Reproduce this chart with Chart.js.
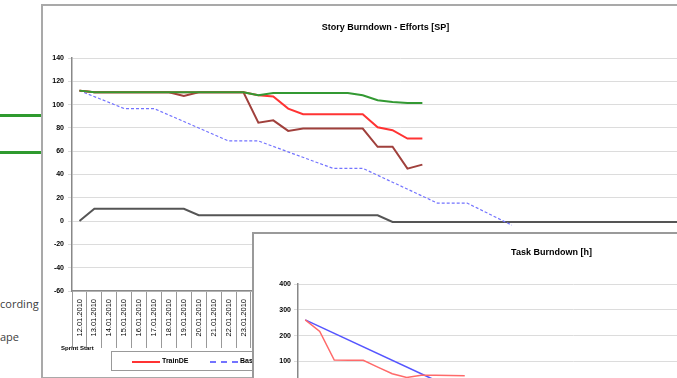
<!DOCTYPE html>
<html>
<head>
<meta charset="utf-8">
<script src="https://cdn.jsdelivr.net/npm/chart.js@4"></script>
<style>
  body { margin: 0; width: 677px; height: 378px; overflow: hidden; background: #fff; position: relative; font-family: "Liberation Sans", Arial, sans-serif; }
  .doc-line { position: absolute; left: 0; width: 41px; height: 3px; background: #2f9a2f; }
  .doc-text { position: absolute; left: 0; font-family: "Open Sans", sans-serif; font-size: 11px; color: #404040; }
  #storyFrame { position: absolute; left: 41px; top: 4px; width: 720px; height: 371px; border: 2px solid #a9a9a9; background: #fff; }
  #storyChart { position: absolute; left: 43px; top: 6px; }
  #sprintStart { position: absolute; left: 61px; top: 345px; font-size: 6px; font-weight: bold; color: #000; }
  #storyLegend { position: absolute; left: 111px; top: 351px; width: 420px; height: 18px; border: 1px solid #999; background: #fff; }
  #storyLegend .item { position: absolute; top: 0; height: 18px; line-height: 18px; font-size: 7px; font-weight: bold; color: #000; }
  #storyLegend .swatch { position: absolute; top: 9px; width: 28px; }
  #taskFrame { position: absolute; left: 252px; top: 232px; width: 640px; height: 220px; border: 2px solid #9a9a9a; background: #fff; }
  #taskChart { position: absolute; left: 254px; top: 234px; }
</style>
</head>
<body>
<div class="doc-line" style="top:114px"></div>
<div class="doc-line" style="top:151px"></div>
<div class="doc-text" style="top:296px">cording</div>
<div class="doc-text" style="top:329px">ape</div>

<div id="storyFrame"></div>
<canvas id="storyChart" width="695" height="370"></canvas>
<div id="sprintStart">Sprint Start</div>
<div id="storyLegend"></div>

<div id="taskFrame"></div>
<canvas id="taskChart" width="618" height="200"></canvas>

<script>
// datas do sprint (eixo x)
const datas = ['12.01.2010', '13.01.2010', '14.01.2010', '15.01.2010', '16.01.2010', '17.01.2010', '18.01.2010', '19.01.2010',
    '20.01.2010', '21.01.2010', '22.01.2010', '23.01.2010', '24.01.2010', '25.01.2010', '26.01.2010', '27.01.2010',
    '28.01.2010', '29.01.2010', '30.01.2010', '31.01.2010', '01.02.2010', '02.02.2010', '03.02.2010', '04.02.2010',
    '05.02.2010', '06.02.2010', '07.02.2010', '08.02.2010', '09.02.2010', '10.02.2010', '11.02.2010', '12.02.2010',
    '13.02.2010', '14.02.2010', '15.02.2010', '16.02.2010', '17.02.2010', '18.02.2010', '19.02.2010', '20.02.2010',
    '21.02.2010', '22.02.2010', '23.02.2010', '24.02.2010'];

// Story Burndown - Efforts [SP]
const scopeSP = [112, 110.5, 110.5, 110.5, 110.5, 110.5, 110.5, 110.5, 110.5, 110.5, 110.5, 110.5,
    108, 110, 110, 110, 110, 110, 110, 108, 103.7, 102.3, 101.4, 101.4];
const trainDE = [112, 110.5, 110.5, 110.5, 110.5, 110.5, 110.5, 110.5, 110.5, 110.5, 110.5, 110.5,
    108, 107, 96.6, 91.7, 91.7, 91.7, 91.7, 91.7, 80.5, 78, 70.8, 70.8];
const restante = [112, 110.5, 110.5, 110.5, 110.5, 110.5, 110.5, 107.5, 110.5, 110.5, 110.5, 110.5,
    84.5, 86.5, 77.4, 79.4, 79.4, 79.4, 79.4, 79.4, 63.8, 63.8, 45, 48.5];
// baseline: só os pontos de quebra, o resto é ligado em linha reta
const baseline = [112, null, null, 96.6, null, 96.6, null, null, null, null, 68.8, null, 68.8, null, null, null, null, 45.3,
    null, 45.3, null, null, null, null, 15.5, null, 15.5, null, null, -3.5];
const adicionado = [0, 10.6, 10.6, 10.6, 10.6, 10.6, 10.6, 10.6, 5, 5, 5, 5, 5, 5, 5, 5, 5, 5, 5, 5, 5,
    -0.8, -0.8, -0.8, -0.8, -0.8, -0.8, -0.8, -0.8, -0.8, -0.8, -0.8, -0.8, -0.8, -0.8, -0.8, -0.8, -0.8, -0.8,
    -0.8, -0.8, -0.8, -0.8, -0.8];
const ticksSP = [-60, -40, -20, 0, 20, 40, 60, 80, 100, 120, 140];

// Task Burndown [h]
const tarefasReal = [261, 216, 105, 104, 104, 78, 52, 38, 46, 46, 45, 44];
const tarefasBaseline = [261, null, null, null, null, null, null, null, null, null, 0];
const ticksHoras = [0, 100, 200, 300, 400];

const fonte = '"Liberation Sans", Arial, sans-serif';

const series = [
    { label: 'Scope', data: scopeSP, borderColor: '#339933', borderWidth: 2 },
    { label: 'TrainDE', data: trainDE, borderColor: '#ff3333', borderWidth: 2 },
    { label: 'Remaining', data: restante, borderColor: '#a0403c', borderWidth: 2 },
    { label: 'Baseline', data: baseline, borderColor: '#7373ff', borderWidth: 1.2, borderDash: [3, 2], spanGaps: true },
    { label: 'Added', data: adicionado, borderColor: '#555555', borderWidth: 2 }
];

new Chart(document.getElementById('storyChart'), {
    type: 'line',
    data: { labels: datas, datasets: series },
    options: {
        responsive: false,
        animation: false,
        layout: { padding: { left: 0, right: 10, top: 0, bottom: 25 } },
        elements: { point: { radius: 0 }, line: { tension: 0 } },
        plugins: {
            legend: { display: false },
            tooltip: { enabled: false },
            title: {
                display: true,
                text: 'Story Burndown - Efforts [SP]',
                color: '#000',
                font: { family: fonte, size: 9, weight: 'bold' },
                padding: { top: 16, bottom: 25.2 }
            }
        },
        scales: {
            x: {
                offset: true,
                grid: { offset: true, drawOnChartArea: false, tickLength: 57, color: '#999' },
                border: { color: '#888', width: 1.5 },
                ticks: { autoSkip: false, minRotation: 90, maxRotation: 90, padding: -49, color: '#000', font: { family: fonte, size: 7.5 } },
                afterFit: s => { s.height = 60; }
            },
            y: {
                min: -60,
                max: 140,
                afterBuildTicks: s => { s.ticks = ticksSP.map(v => ({ value: v })); },
                grid: { color: '#dcdcdc', tickLength: 4 },
                border: { color: '#888', width: 1.5 },
                ticks: { padding: 4, color: '#000', font: { family: fonte, size: 7, weight: 'bold' } },
                afterFit: s => { s.width = 29; }
            }
        }
    }
});

// legenda em HTML (o resto fica tapado pelo segundo gráfico)
const ordemLegenda = [1, 3, 0, 2, 4];
const legenda = document.getElementById('storyLegend');
let xLeg = 20;
ordemLegenda.forEach(i => {
    const s = series[i];
    const sw = document.createElement('div');
    sw.className = 'swatch';
    sw.style.left = xLeg + 'px';
    sw.style.borderTop = '2px ' + (s.borderDash ? 'dashed ' : 'solid ') + s.borderColor;
    legenda.appendChild(sw);
    const txt = document.createElement('div');
    txt.className = 'item';
    txt.style.left = (xLeg + 30) + 'px';
    txt.textContent = s.label;
    legenda.appendChild(txt);
    xLeg += 78;
});

new Chart(document.getElementById('taskChart'), {
    type: 'line',
    data: {
        labels: datas.slice(0, 38),
        datasets: [
            { label: 'Actual', data: tarefasReal, borderColor: '#ff6a6a', borderWidth: 1.5 },
            { label: 'Baseline', data: tarefasBaseline, borderColor: '#5555ff', borderWidth: 1.5, spanGaps: true }
        ]
    },
    options: {
        responsive: false,
        animation: false,
        layout: { padding: { left: 0, right: 23, top: 0, bottom: 6.8 } },
        elements: { point: { radius: 0 }, line: { tension: 0 } },
        plugins: {
            legend: { display: false },
            tooltip: { enabled: false },
            title: {
                display: true,
                text: 'Task Burndown [h]',
                color: '#000',
                font: { family: fonte, size: 9, weight: 'bold' },
                padding: { top: 13.6, bottom: 25.6 }
            }
        },
        scales: {
            x: {
                offset: true,
                grid: { offset: true, drawOnChartArea: false, tickLength: 4, color: '#999' },
                border: { color: '#888', width: 1.5 },
                ticks: { autoSkip: false, minRotation: 90, maxRotation: 90, color: '#000', font: { family: fonte, size: 8 } },
                afterFit: s => { s.height = 40; }
            },
            y: {
                min: 0,
                max: 400,
                afterBuildTicks: s => { s.ticks = ticksHoras.map(v => ({ value: v })); },
                grid: { color: '#dcdcdc', tickLength: 4 },
                border: { color: '#888', width: 1.5 },
                ticks: { padding: 3, color: '#000', font: { family: fonte, size: 7, weight: 'bold' } },
                afterFit: s => { s.width = 44; }
            }
        }
    }
});
</script>
</body>
</html>
